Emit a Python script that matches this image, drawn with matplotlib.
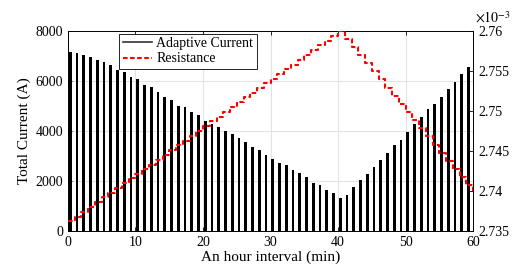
import matplotlib
matplotlib.use("Agg")
import matplotlib.pyplot as plt
from matplotlib.lines import Line2D
import numpy as np

plt.rcParams['font.family'] = ['Liberation Serif', 'DejaVu Serif']
plt.rcParams['mathtext.fontset'] = 'stix'

minutes = list(range(0, 60))
current = [7170, 7110, 7040, 6950, 6840, 6750, 6640, 6440, 6370, 6150,
           6070, 5840, 5750, 5570, 5370, 5240, 5000, 4950, 4770, 4640,
           4410, 4280, 4150, 4010, 3870, 3730, 3550, 3350, 3240, 3040,
           2900, 2730, 2640, 2440, 2330, 2170, 1930, 1840, 1640, 1540,
           1310, 1430, 1750, 2040, 2270, 2550, 2840, 3130, 3450, 3640,
           3950, 4280, 4570, 4870, 5070, 5370, 5670, 5970, 6280, 6570]

res_minutes = list(range(0, 61))
resistance = [2.7362, 2.7368, 2.7374, 2.7380, 2.7386, 2.7392, 2.7398, 2.7404, 2.7410, 2.7416,
              2.7421, 2.7427, 2.7433, 2.7439, 2.7445, 2.7451, 2.7457, 2.7463, 2.7469, 2.7475,
              2.7481, 2.7487, 2.7493, 2.7499, 2.7505, 2.7511, 2.7517, 2.7523, 2.7529, 2.7535,
              2.7540, 2.7546, 2.7552, 2.7558, 2.7564, 2.7570, 2.7576, 2.7582, 2.7588, 2.7594,
              2.7600, 2.7590, 2.7580, 2.7570, 2.7560, 2.7550, 2.7540, 2.7529, 2.7519, 2.7509,
              2.7499, 2.7489, 2.7479, 2.7469, 2.7458, 2.7448, 2.7438, 2.7428, 2.7418, 2.7407,
              2.7397]

fig = plt.figure(figsize=(5.17, 2.75), dpi=100)
ax = fig.add_axes([0.1315, 0.16, 0.7835, 0.727])
ax2 = ax.twinx()

ax.bar(np.array(minutes) + 0.12, current, width=0.42, align='edge', color='black', zorder=2)
ax.set_xlim(0, 60)
ax.set_ylim(0, 8000)
ax.set_xticks(range(0, 61, 10))
ax.set_yticks(range(0, 8001, 2000))
ax.grid(True, color='#e3e3e3', linewidth=0.8, zorder=0)
ax.set_axisbelow(True)
ax.tick_params(direction='in', labelsize=10, top=True, length=3, width=0.6)
ax.set_xlabel('An hour interval (min)', fontsize=11, labelpad=1)
ax.set_ylabel('Total Current (A)', fontsize=11, labelpad=3)

ax2.plot(res_minutes, [r * 1e-3 for r in resistance], color='red', linewidth=1.5,
         linestyle=(0, (2.2, 1.2)), drawstyle='steps-post', zorder=3)
ax2.set_ylim(2.735e-3, 2.76e-3)
ax2.set_yticks([2.735e-3, 2.74e-3, 2.745e-3, 2.75e-3, 2.755e-3, 2.76e-3])
ax2.set_yticklabels(['2.735', '2.74', '2.745', '2.75', '2.755', '2.76'])
ax2.tick_params(direction='in', labelsize=10, length=3, width=0.6)
ax2.text(1.005, 1.025, r'$\times 10^{-3}$', transform=ax2.transAxes, fontsize=10,
         ha='left', va='bottom')

for a in (ax, ax2):
    for s in a.spines.values():
        s.set_linewidth(0.6)

handles = [Line2D([], [], color='#333333', linewidth=1.2),
           Line2D([], [], color='red', linewidth=1.5, linestyle=(0, (2.2, 1.2)))]
leg = ax2.legend(handles, ['Adaptive Current', 'Resistance'], loc='upper left',
                 bbox_to_anchor=(0.12, 1.0), fontsize=10, frameon=True, fancybox=False,
                 edgecolor='black', framealpha=1, handlelength=2.1, borderpad=0.25,
                 labelspacing=0.15, handletextpad=0.3, borderaxespad=0.2)
leg.get_frame().set_linewidth(0.6)

fig.savefig('out.png', dpi=100)
